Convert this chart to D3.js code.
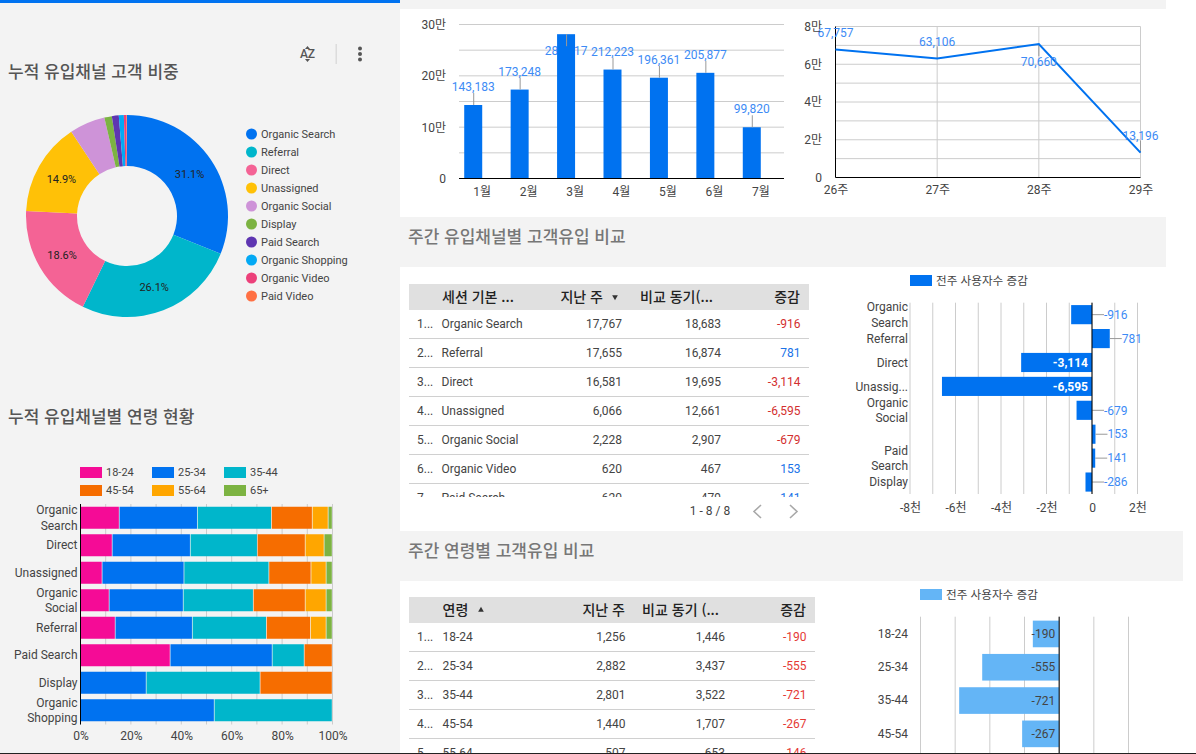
<!DOCTYPE html>
<html lang="ko">
<head>
<meta charset="utf-8">
<title>고객 유입 대시보드</title>
<script src="https://cdn.jsdelivr.net/npm/d3@7/dist/d3.min.js"></script>
<style>
  html, body { margin: 0; padding: 0; background: #fff; overflow: hidden; }
  svg { display: block; font-family: Roboto, "Noto Sans CJK KR", sans-serif; }
  .ko { font-family: "Noto Sans CJK KR", Roboto, sans-serif; }
</style>
</head>
<body>
<svg id="board" width="1196" height="754"></svg>
<script>
// Channel share donut
const shareChannels = ["Organic Search", "Referral", "Direct", "Unassigned", "Organic Social", "Display", "Paid Search", "Organic Shopping", "Organic Video", "Paid Video"];
const shareValues = [31.1, 26.1, 18.6, 14.9, 5.7, 1.2, 1.1, 0.8, 0.4, 0.1];
const shareColors = ["#0072f0", "#00b6cb", "#f46395", "#ffc107", "#ce93d8", "#7cb342", "#5e35b1", "#03a9f4", "#ec407a", "#ff7043"];

// Age mix per channel, percent of sessions
const ageGroups = ["18-24", "25-34", "35-44", "45-54", "55-64", "65+"];
const ageColors = ["#f50b96", "#0072f0", "#00b6cb", "#f66d00", "#ffa600", "#7cb342"];
const ageChannels = ["Organic|Search", "Direct", "Unassigned", "Organic|Social", "Referral", "Paid Search", "Display", "Organic|Shopping"];
const age1824 = [15.5, 12.7, 8.7, 11.5, 13.9, 35.7, 0, 0];
const age2534 = [31.0, 31.0, 32.5, 29.4, 30.6, 40.5, 26.2, 53.2];
const age3544 = [29.4, 26.6, 33.7, 27.8, 29.4, 12.7, 45.2, 46.8];
const age4554 = [16.2, 19.0, 16.7, 20.6, 17.5, 11.1, 28.6, 0];
const age5564 = [6.3, 7.5, 6.0, 8.3, 6.2, 0, 0, 0];
const age65 = [1.6, 3.2, 2.4, 2.4, 2.4, 0, 0, 0];

// Monthly sessions
const months = ["1월", "2월", "3월", "4월", "5월", "6월", "7월"];
const monthlySessions = [143183, 173248, 281117, 212223, 196361, 205877, 99820];

// Weekly sessions
const weeks = ["26주", "27주", "28주", "29주"];
const weeklySessions = [67757, 63106, 70660, 13196];

// Weekly comparison by channel
const channelNames = ["Organic Search", "Referral", "Direct", "Unassigned", "Organic Social", "Organic Video", "Paid Search"];
const channelLastWeek = [17767, 17655, 16581, 6066, 2228, 620, 620];
const channelPrevious = [18683, 16874, 19695, 12661, 2907, 467, 479];
const channelDelta = [-916, 781, -3114, -6595, -679, 153, 141];
const deltaBarLabels = ["Organic|Search", "Referral", "Direct", "Unassig...", "Organic|Social", "", "Paid|Search", "Display"];
const deltaBarValues = [-916, 781, -3114, -6595, -679, 153, 141, -286];

// Weekly comparison by age
const ageRowNames = ["18-24", "25-34", "35-44", "45-54", "55-64"];
const ageLastWeek = [1256, 2882, 2801, 1440, 507];
const agePrevious = [1446, 3437, 3522, 1707, 653];
const ageDelta = [-190, -555, -721, -267, -146];

const GREY_BG = "#f3f3f3";
const GRID = "#cccccc";
const TEXT = "#444444";
const LABEL_BLUE = "#3d8bf5";
const LEADER = "#999999";

const svg = d3.select("#board");
const defs = svg.append("defs");
// Thousands separators with a plain hyphen for negatives
const count = d3.formatLocale({ decimal: ".", thousands: ",", grouping: [3], currency: ["", ""], minus: "-" }).format(",");

function box(x, y, w, h, fill) {
  return svg.append("rect").attr("x", x).attr("y", y).attr("width", w).attr("height", h).attr("fill", fill);
}

// Page furniture: grey panels and section bands
box(0, 0, 400, 754, GREY_BG);
box(400, 0, 766, 9, GREY_BG);
box(400, 217, 766, 50, GREY_BG);
box(400, 531, 783, 50, GREY_BG);
box(0, 0, 400, 3, "#0072f0");

function title(text, x, y, fill) {
  svg.append("text").attr("class", "ko").attr("x", x).attr("y", y)
    .attr("font-size", 17).attr("font-weight", 500).attr("fill", fill).text(text);
}
title("누적 유입채널 고객 비중", 8, 78, "#555");
title("누적 유입채널별 연령 현황", 8, 423, "#555");
title("주간 유입채널별 고객유입 비교", 408, 242.5, "#777");
title("주간 연령별 고객유입 비교", 408, 556.5, "#777");

// Sort and overflow controls of the first panel
const tools = svg.append("g").attr("fill", "#555");
tools.append("text").attr("x", 307.5).attr("y", 58).attr("text-anchor", "middle")
  .attr("font-size", 12).attr("font-weight", 500).text("AZ");
tools.append("path").attr("d", d3.line()([[305, 49], [307.5, 46], [310, 49]]));
tools.append("path").attr("d", d3.line()([[305, 59], [307.5, 62], [310, 59]]));
box(335.5, 44, 1.5, 20, "#dcdcdc");
[48.5, 54, 59.5].forEach(cy => tools.append("circle").attr("cx", 360).attr("cy", cy).attr("r", 2));

// Shared axis styling: no domain, no tick marks, plain labels
function styleAxis(g, size = 12) {
  g.select(".domain").remove();
  g.selectAll(".tick line").remove();
  g.selectAll("text").attr("fill", TEXT).attr("font-size", size);
  g.attr("font-family", null);
}

// Splits "a|b" tick labels onto two centred lines
function wrapTicks(g, labelOf = d => d) {
  g.selectAll(".tick text").each(function (d) {
    const parts = String(labelOf(d)).split("|");
    const t = d3.select(this).text(null).attr("dy", null);
    parts.forEach((p, i) => t.append("tspan").attr("x", -2.5)
      .attr("dy", i ? "15.5" : (parts.length > 1 ? "-0.3em" : "0.35em")).text(p));
  });
}

/* ---------- donut ---------- */
const pie = d3.pie().sort(null).value(d => d);
const arc = d3.arc().innerRadius(50).outerRadius(101);
const donut = svg.append("g").attr("transform", "translate(127,216)");
const slices = pie(shareValues);
donut.selectAll("path").data(slices).join("path")
  .attr("d", arc).attr("fill", (d, i) => shareColors[i]);
donut.selectAll("text").data(slices.filter(d => d.value >= 10)).join("text")
  .attr("transform", d => `translate(${arc.centroid(d)})`)
  .attr("text-anchor", "middle").attr("dy", "0.4em").attr("font-size", 11).attr("fill", "#222")
  .text(d => d.value.toFixed(1) + "%");

const shareLegend = svg.append("g").selectAll("g").data(shareChannels).join("g")
  .attr("transform", (d, i) => `translate(251.5,${134 + i * 18})`);
shareLegend.append("circle").attr("r", 5.5).attr("fill", (d, i) => shareColors[i]);
shareLegend.append("text").attr("x", 9.5).attr("dy", "0.35em").attr("font-size", 11).attr("fill", TEXT).text(d => d);

/* ---------- stacked age bars ---------- */
const ageSeries = [age1824, age2534, age3544, age4554, age5564, age65];
const stackRows = ageChannels.map((c, i) => {
  const row = { channel: c };
  ageGroups.forEach((g, k) => { row[g] = ageSeries[k][i]; });
  return row;
});
const stacked = d3.stack().keys(ageGroups).offset(d3.stackOffsetExpand)(stackRows);
const stackX = d3.scaleLinear().domain([0, 1]).range([80.5, 332.5]);
const stackY = d3.scaleBand().domain(ageChannels).range([504, 724]).paddingInner(0.2).paddingOuter(0.1);

svg.append("g").selectAll("line").data(d3.range(0, 1.01, 0.1)).join("line")
  .attr("x1", d => stackX(d)).attr("x2", d => stackX(d)).attr("y1", 504).attr("y2", 724.5).attr("stroke", GRID);
svg.append("g").selectAll("g").data(stacked).join("g")
  .attr("fill", (d, i) => ageColors[i])
  .selectAll("rect").data(d => d).join("rect")
  .attr("x", d => stackX(d[0]))
  .attr("width", d => Math.max(0, stackX(d[1]) - stackX(d[0]) - 0.7))
  .attr("y", d => stackY(d.data.channel)).attr("height", stackY.bandwidth());
svg.append("line").attr("x1", 80.5).attr("x2", 80.5).attr("y1", 504).attr("y2", 724.5).attr("stroke", "#000");

svg.append("g").attr("transform", "translate(80,0)")
  .call(d3.axisLeft(stackY).tickSize(0).tickPadding(3))
  .call(styleAxis).call(wrapTicks);
svg.append("g").attr("transform", "translate(0,724)")
  .call(d3.axisBottom(stackX).tickValues(d3.range(0, 1.01, 0.2)).tickFormat(d3.format(".0%")).tickSize(0).tickPadding(7))
  .call(styleAxis);

const ageLegend = svg.append("g").selectAll("g").data(ageGroups).join("g")
  .attr("transform", (d, i) => `translate(${80 + (i % 3) * 72},${467 + Math.floor(i / 3) * 18})`);
ageLegend.append("rect").attr("width", 22).attr("height", 11).attr("fill", (d, i) => ageColors[i]);
ageLegend.append("text").attr("x", 26).attr("y", 5.5).attr("dy", "0.35em").attr("font-size", 11).attr("fill", TEXT).text(d => d);

/* ---------- monthly bars ---------- */
const monthX = d3.scaleBand().domain(months).range([459, 784]);
const monthY = d3.scaleLinear().domain([0, 300000]).range([178.5, 24.5]);
const monthBarWidth = 18;
// Bars sit in the left half of each band, as in a two-series grouping
const monthBarX = m => monthX(m) + monthX.bandwidth() / 2 - monthBarWidth;
// Where the bar reaches the top of the plot the label drops below its top edge
const loweredMonths = new Set(["3월"]);

svg.append("g").selectAll("line").data(d3.range(0, 300001, 50000).filter(d => d > 0)).join("line")
  .attr("x1", 459).attr("x2", 784).attr("y1", d => monthY(d)).attr("y2", d => monthY(d)).attr("stroke", GRID);

const monthData = months.map((m, i) => ({ m, v: monthlySessions[i] }));
// Labels are painted first, so a tall bar covers the middle of its own label
svg.append("g").selectAll("text").data(monthData).join("text")
  .attr("x", d => monthBarX(d.m) + monthBarWidth / 2)
  .attr("y", d => monthY(d.v) + (loweredMonths.has(d.m) ? 17 : -18))
  .attr("dy", "0.35em").attr("text-anchor", "middle").attr("font-size", 12).attr("fill", LABEL_BLUE)
  .text(d => count(d.v));
svg.append("g").selectAll("rect").data(monthData).join("rect")
  .attr("x", d => monthBarX(d.m)).attr("width", monthBarWidth)
  .attr("y", d => monthY(d.v)).attr("height", d => monthY(0) - monthY(d.v)).attr("fill", "#0072f0");
svg.append("g").selectAll("line").data(monthData).join("line")
  .attr("x1", d => monthBarX(d.m) + monthBarWidth / 2 + 0.5).attr("x2", d => monthBarX(d.m) + monthBarWidth / 2 + 0.5)
  .attr("y1", d => monthY(d.v)).attr("y2", d => monthY(d.v) + (loweredMonths.has(d.m) ? 12 : -12))
  .attr("stroke", LEADER);
svg.append("line").attr("x1", 459).attr("x2", 784).attr("y1", 178.5).attr("y2", 178.5).attr("stroke", "#000");

const man = d => (d === 0 ? "0" : d / 10000 + "만");
svg.append("g").attr("transform", "translate(459,0)")
  .call(d3.axisLeft(monthY).tickValues([0, 100000, 200000, 300000]).tickFormat(man).tickSize(0).tickPadding(13))
  .call(styleAxis);
svg.append("g").attr("transform", "translate(0,178)")
  .call(d3.axisBottom(monthX).tickSize(0).tickPadding(9))
  .call(styleAxis);

/* ---------- weekly line ---------- */
const weekX = d3.scalePoint().domain(weeks).range([835.5, 1140.5]);
const weekY = d3.scaleLinear().domain([0, 80000]).range([177.5, 26.5]);
const weekData = weeks.map((w, i) => ({ w, v: weeklySessions[i] }));
const loweredWeeks = new Set(["28주"]);

svg.append("g").selectAll("line").data(d3.range(10000, 80001, 10000)).join("line")
  .attr("x1", 835.5).attr("x2", 1140.5).attr("y1", d => weekY(d)).attr("y2", d => weekY(d)).attr("stroke", GRID);
svg.append("g").selectAll("line").data(weeks.slice(1)).join("line")
  .attr("x1", d => weekX(d)).attr("x2", d => weekX(d)).attr("y1", 26.5).attr("y2", 177.5).attr("stroke", GRID);
svg.append("g").selectAll("line").data(weekData).join("line")
  .attr("x1", d => weekX(d.w)).attr("x2", d => weekX(d.w))
  .attr("y1", d => weekY(d.v)).attr("y2", d => weekY(d.v) + (loweredWeeks.has(d.w) ? 12 : -12))
  .attr("stroke", LEADER);
svg.append("line").attr("x1", 835.5).attr("x2", 835.5).attr("y1", 26.5).attr("y2", 177.5).attr("stroke", "#000");
svg.append("line").attr("x1", 835.5).attr("x2", 1140.5).attr("y1", 177.5).attr("y2", 177.5).attr("stroke", "#000");
svg.append("path").datum(weekData)
  .attr("d", d3.line().x(d => weekX(d.w)).y(d => weekY(d.v)))
  .attr("fill", "none").attr("stroke", "#0072f0").attr("stroke-width", 2);
svg.append("g").selectAll("text").data(weekData).join("text")
  .attr("x", d => weekX(d.w)).attr("y", d => weekY(d.v) + (loweredWeeks.has(d.w) ? 18 : -17))
  .attr("dy", "0.35em").attr("text-anchor", "middle").attr("font-size", 12).attr("fill", LABEL_BLUE)
  .text(d => count(d.v));
svg.append("g").attr("transform", "translate(835,0)")
  .call(d3.axisLeft(weekY).tickValues([0, 20000, 40000, 60000, 80000]).tickFormat(man).tickSize(0).tickPadding(13))
  .call(styleAxis);
svg.append("g").attr("transform", "translate(0,177)")
  .call(d3.axisBottom(weekX).tickSize(0).tickPadding(8))
  .call(styleAxis);

/* ---------- comparison tables ---------- */
let clipCount = 0;
function drawTable(o) {
  const id = "table-clip-" + (++clipCount);
  defs.append("clipPath").attr("id", id).append("rect")
    .attr("x", o.x).attr("y", o.top).attr("width", o.width).attr("height", o.bottom - o.top);
  const g = svg.append("g").attr("clip-path", `url(#${id})`);
  g.append("rect").attr("x", o.x).attr("y", o.top).attr("width", o.width).attr("height", o.headH).attr("fill", "#e0e0e0");
  const headerY = o.top + o.headH / 2;
  o.headers.forEach(h => {
    g.append("text").attr("class", "ko").attr("x", h.x).attr("y", headerY).attr("dy", "0.35em")
      .attr("text-anchor", h.anchor).attr("font-size", 14).attr("font-weight", 500).attr("fill", "#222").text(h.text);
  });
  g.append("path").attr("d", d3.symbol(d3.symbolTriangle, 14)())
    .attr("transform", `translate(${o.sort.x},${headerY})` + (o.sort.down ? " rotate(180)" : "")).attr("fill", "#333");

  const rowTop = o.top + o.headH;
  const rows = g.selectAll(".row").data(o.names).join("g").attr("class", "row")
    .attr("transform", (d, i) => `translate(0,${rowTop + i * o.rowH})`);
  rows.append("line").attr("x1", o.x).attr("x2", o.x + o.width).attr("y1", o.rowH - 0.5).attr("y2", o.rowH - 0.5).attr("stroke", "#d0d0d0");
  const cell = (sel, x, anchor, fill, text) => sel.append("text")
    .attr("x", x).attr("y", o.rowH / 2 - 1).attr("dy", "0.35em").attr("text-anchor", anchor)
    .attr("font-size", 12).attr("fill", fill).text(text);
  cell(rows, o.x + 8, "start", TEXT, (d, i) => (i + 1) + "...");
  cell(rows, o.nameX, "start", TEXT, d => d);
  cell(rows, o.colA, "end", TEXT, (d, i) => count(o.a[i]));
  cell(rows, o.colB, "end", TEXT, (d, i) => count(o.b[i]));
  cell(rows, o.colC, "end", (d, i) => (o.c[i] < 0 ? o.red : "#1a73e8"), (d, i) => count(o.c[i]));
}

drawTable({
  x: 409, width: 400, top: 284, bottom: 497, headH: 26, rowH: 29,
  headers: [
    { text: "세션 기본 ...", x: 442, anchor: "start" },
    { text: "지난 주", x: 603, anchor: "end" },
    { text: "비교 동기(...", x: 713, anchor: "end" },
    { text: "증감", x: 800, anchor: "end" }
  ],
  sort: { x: 615, down: true },
  names: channelNames, a: channelLastWeek, b: channelPrevious, c: channelDelta,
  nameX: 441.5, colA: 622, colB: 721, colC: 800.5, red: "#d32f2f"
});
drawTable({
  x: 409, width: 406, top: 597, bottom: 753, headH: 26, rowH: 29,
  headers: [
    { text: "연령", x: 442.5, anchor: "start" },
    { text: "지난 주", x: 625, anchor: "end" },
    { text: "비교 동기 (...", x: 719, anchor: "end" },
    { text: "증감", x: 806, anchor: "end" }
  ],
  sort: { x: 481, down: false },
  names: ageRowNames, a: ageLastWeek, b: agePrevious, c: ageDelta,
  nameX: 442.5, colA: 625.5, colB: 725, colC: 806.5, red: "#e53935"
});

// Pagination under the channel table
svg.append("text").attr("x", 710).attr("y", 511).attr("dy", "0.35em").attr("text-anchor", "middle")
  .attr("font-size", 12).attr("fill", TEXT).text("1 - 8 / 8");
[[761, 754], [790, 797]].forEach(([a, b]) => {
  svg.append("path").attr("d", d3.line()([[a, 505], [b, 511.5], [a, 518]]))
    .attr("fill", "none").attr("stroke", "#a8a8a8").attr("stroke-width", 1.6);
});

/* ---------- channel delta bars ---------- */
const deltaX = d3.scaleLinear().domain([-8000, 2000]).range([910, 1137.5]);
const deltaKeys = deltaBarLabels.map((l, i) => i);
const deltaY = d3.scaleBand().domain(deltaKeys).range([302.7, 494]).paddingInner(0.2).paddingOuter(0.1);

svg.append("g").selectAll("line").data(d3.range(-8000, 2001, 1000)).join("line")
  .attr("x1", d => deltaX(d)).attr("x2", d => deltaX(d)).attr("y1", 302.7).attr("y2", 494).attr("stroke", GRID);
svg.append("g").selectAll("rect").data(deltaBarValues).join("rect")
  .attr("x", d => deltaX(Math.min(0, d))).attr("width", d => Math.abs(deltaX(d) - deltaX(0)))
  .attr("y", (d, i) => deltaY(i)).attr("height", deltaY.bandwidth()).attr("fill", "#0072f0");

// Large bars carry a white label inside; the rest get a leader and a label beside them
const deltaInside = d => d < -2000;
const deltaOutside = deltaBarValues.map((v, i) => ({ v, i })).filter(d => !deltaInside(d.v));
svg.append("g").selectAll("line").data(deltaOutside).join("line")
  .attr("x1", d => deltaX(Math.max(0, d.v))).attr("x2", d => deltaX(Math.max(0, d.v)) + 12)
  .attr("y1", d => deltaY(d.i) + deltaY.bandwidth() / 2).attr("y2", d => deltaY(d.i) + deltaY.bandwidth() / 2)
  .attr("stroke", LEADER);
svg.append("g").selectAll("text").data(deltaOutside).join("text")
  .attr("x", d => deltaX(Math.max(0, d.v)) + 12).attr("y", d => deltaY(d.i) + deltaY.bandwidth() / 2)
  .attr("dy", "0.35em").attr("font-size", 12).attr("fill", LABEL_BLUE).text(d => count(d.v));
svg.append("g").selectAll("text").data(deltaBarValues.map((v, i) => ({ v, i })).filter(d => deltaInside(d.v))).join("text")
  .attr("x", deltaX(0) - 4).attr("y", d => deltaY(d.i) + deltaY.bandwidth() / 2)
  .attr("dy", "0.35em").attr("text-anchor", "end").attr("font-size", 12).attr("font-weight", 700).attr("fill", "#fff").text(d => count(d.v));
svg.append("line").attr("x1", deltaX(0)).attr("x2", deltaX(0)).attr("y1", 302.7).attr("y2", 494).attr("stroke", "#000");

svg.append("g").attr("transform", "translate(910.5,0)")
  .call(d3.axisLeft(deltaY).tickSize(0).tickPadding(3).tickFormat(i => deltaBarLabels[i]))
  .call(styleAxis).call(wrapTicks, i => deltaBarLabels[i]);
const cheon = d => (d === 0 ? "0" : d / 1000 + "천");
svg.append("g").attr("transform", "translate(0,494)")
  .call(d3.axisBottom(deltaX).tickValues(d3.range(-8000, 2001, 2000)).tickFormat(cheon).tickSize(0).tickPadding(9))
  .call(styleAxis);

function deltaLegend(x, y, fill) {
  box(x, y, 22, 11, fill);
  svg.append("text").attr("class", "ko").attr("x", x + 26).attr("y", y + 5.5).attr("dy", "0.35em")
    .attr("font-size", 11.6).attr("fill", TEXT).text("전주 사용자수 증감");
}
deltaLegend(910, 275, "#0072f0");
deltaLegend(920, 589, "#64b5f6");

/* ---------- age delta bars ---------- */
const ageX = d3.scaleLinear().domain([-1000, 500]).range([920.5, 1128.5]);
const ageY = d3.scaleBand().domain(ageRowNames).range([617.3, 783.8]).paddingInner(0.2).paddingOuter(0.1);
const ageClip = "age-delta-clip";
defs.append("clipPath").attr("id", ageClip).append("rect").attr("x", 830).attr("y", 600).attr("width", 366).attr("height", 153);
const agePlot = svg.append("g").attr("clip-path", `url(#${ageClip})`);
agePlot.selectAll(".grid").data(d3.range(-1000, 501, 250)).join("line").attr("class", "grid")
  .attr("x1", d => ageX(d)).attr("x2", d => ageX(d)).attr("y1", 616.7).attr("y2", 754).attr("stroke", GRID);
agePlot.selectAll("rect").data(ageDelta).join("rect")
  .attr("x", d => ageX(d)).attr("width", d => ageX(0) - ageX(d))
  .attr("y", (d, i) => ageY(ageRowNames[i])).attr("height", ageY.bandwidth()).attr("fill", "#64b5f6");
agePlot.selectAll(".value").data(ageDelta).join("text").attr("class", "value")
  .attr("x", ageX(0) - 4).attr("y", (d, i) => ageY(ageRowNames[i]) + ageY.bandwidth() / 2)
  .attr("dy", "0.35em").attr("text-anchor", "end").attr("font-size", 12).attr("fill", TEXT).text(d => count(d));
agePlot.append("line").attr("x1", ageX(0)).attr("x2", ageX(0)).attr("y1", 616.7).attr("y2", 754).attr("stroke", "#000");
agePlot.append("g").attr("transform", "translate(908,0)")
  .call(d3.axisLeft(ageY).tickSize(0).tickPadding(0))
  .call(styleAxis);

// Page edge rule
box(0, 753, 1196, 1, "#222");
</script>
</body>
</html>
